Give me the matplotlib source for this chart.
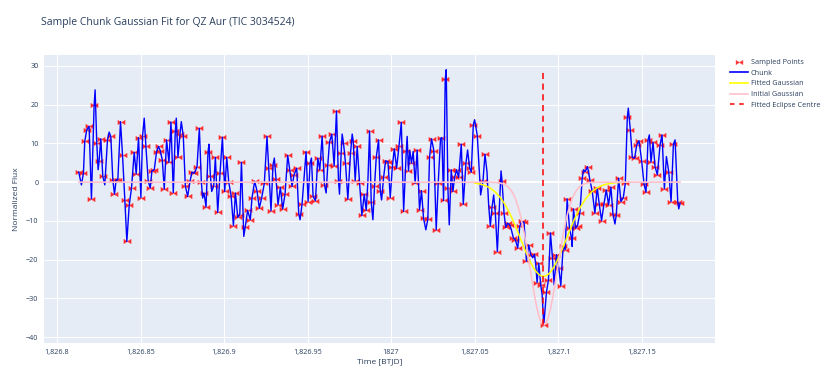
import numpy as np
import matplotlib
matplotlib.use("Agg")
import matplotlib.pyplot as plt
from matplotlib.path import Path
from matplotlib.lines import Line2D

# ---------------- data ----------------
time_a = [1826.8130, 1826.8146, 1826.8158, 1826.8166, 1826.8178, 1826.8192, 1826.8206, 1826.8222, 1826.8228, 1826.8238,
          1826.8246, 1826.8252, 1826.8262, 1826.8274, 1826.8286, 1826.8302, 1826.8312, 1826.8322, 1826.8334, 1826.8344,
          1826.8354, 1826.8364, 1826.8380, 1826.8392, 1826.8406, 1826.8418, 1826.8432, 1826.8446, 1826.8462, 1826.8474,
          1826.8488, 1826.8502, 1826.8512, 1826.8522, 1826.8532, 1826.8546, 1826.8558, 1826.8568, 1826.8582, 1826.8596,
          1826.8608, 1826.8618, 1826.8630, 1826.8642, 1826.8656, 1826.8670, 1826.8682, 1826.8696, 1826.8708, 1826.8714,
          1826.8724, 1826.8736, 1826.8744, 1826.8756, 1826.8768, 1826.8782, 1826.8796, 1826.8808, 1826.8822, 1826.8838,
          1826.8852, 1826.8864, 1826.8872, 1826.8880, 1826.8892, 1826.8904, 1826.8910, 1826.8918, 1826.8926, 1826.8938,
          1826.8948, 1826.8962, 1826.8976, 1826.8990, 1826.9004, 1826.9016, 1826.9028, 1826.9042, 1826.9056, 1826.9068,
          1826.9082, 1826.9094, 1826.9104, 1826.9118]
flux_a = [2.6, -0.7, 2.3, 10.5, 13.5, 14.4, -4.3, 19.8, 23.8, 10.0,
          3.2, 5.5, 11.2, 1.5, -0.7, 10.9, 12.9, 11.8, 0.6, -3.1,
          0.6, 0.6, 15.6, 7.0, -4.6, -15.3, -6.0, -1.5, 7.7, 2.1,
          11.5, -4.0, 11.9, 16.5, 9.3, 0.2, -1.5, 2.9, 3.2, 7.9,
          9.2, 8.1, 5.8, -1.8, 10.9, 5.1, 15.5, -2.7, 13.1, 16.5,
          6.4, 12.4, 15.6, 11.8, -0.9, -3.7, 0.2, 2.6, 2.3, 3.9,
          13.9, 0.0, -4.1, -2.8, -6.4, 7.9, 9.8, 1.7, -2.4, -1.0,
          6.4, -7.8, 2.4, 11.6, -2.4, 6.4, 0.0, -3.5, -11.2, -2.8,
          -9.1, -8.4, 5.1, -14.0]
sampled_a = [1, 0, 1, 1, 1, 1, 1, 1, 0, 1,
             0, 1, 1, 1, 0, 1, 0, 1, 1, 1,
             1, 1, 1, 1, 1, 1, 1, 1, 1, 1,
             1, 1, 1, 0, 1, 1, 1, 1, 1, 1,
             1, 1, 1, 1, 1, 1, 1, 1, 1, 0,
             1, 1, 0, 1, 1, 1, 1, 1, 1, 1,
             1, 1, 0, 1, 1, 1, 0, 1, 0, 1,
             1, 1, 1, 1, 1, 1, 1, 1, 1, 1,
             1, 1, 1, 0]

time_b = [1826.9127, 1826.9141, 1826.9157, 1826.9167, 1826.9183, 1826.9197, 1826.9211, 1826.9225, 1826.9241, 1826.9257,
          1826.9267, 1826.9281, 1826.9293, 1826.9301, 1826.9311, 1826.9323, 1826.9337, 1826.9351, 1826.9365, 1826.9381,
          1826.9393, 1826.9407, 1826.9419, 1826.9435, 1826.9447, 1826.9455, 1826.9467, 1826.9479, 1826.9491, 1826.9503,
          1826.9515, 1826.9523, 1826.9533, 1826.9547, 1826.9561, 1826.9573, 1826.9587, 1826.9601, 1826.9611, 1826.9621,
          1826.9631, 1826.9645, 1826.9659, 1826.9673, 1826.9685, 1826.9691, 1826.9701, 1826.9707, 1826.9715, 1826.9727,
          1826.9741, 1826.9757, 1826.9767, 1826.9773, 1826.9785, 1826.9797, 1826.9811, 1826.9825, 1826.9839, 1826.9851,
          1826.9861, 1826.9871, 1826.9881, 1826.9891, 1826.9901, 1826.9911, 1826.9925, 1826.9935, 1826.9943, 1826.9955,
          1826.9967, 1826.9981, 1826.9995, 1827.0007, 1827.0019, 1827.0033, 1827.0047, 1827.0061, 1827.0075, 1827.0091,
          1827.0096]
flux_b = [-11.5, -7.3, -9.7, -4.1, 0.2, -2.2, -6.7, -4.1, -0.3, 11.8,
          3.6, -7.4, 4.5, 6.2, 0.9, -5.8, -1.3, -6.9, -3.1, 6.9,
          3.2, -1.1, 1.9, 3.6, -8.2, -9.7, -5.6, 1.0, 7.9, -5.0,
          4.9, 6.2, -3.7, -4.8, 6.2, 3.2, 11.9, -0.7, -2.8, 4.5,
          10.3, 12.4, 4.2, 18.4, 0.3, -3.1, 7.5, 12.4, 10.1, 4.9,
          -4.4, 7.5, 12.4, 10.7, 0.3, 9.2, -0.1, -8.6, -3.1, -7.3,
          0.2, 13.2, -5.2, -9.7, -0.9, 6.4, 10.9, -2.2, -4.6, 1.2,
          5.5, 5.3, -4.0, 3.8, 8.6, 3.6, 9.2, 15.4, -7.5, 8.1,
          11.8]
sampled_b = [1, 1, 1, 1, 1, 1, 1, 1, 1, 1,
             1, 1, 1, 0, 1, 1, 1, 1, 1, 1,
             1, 1, 1, 1, 1, 0, 1, 0, 1, 1,
             1, 0, 1, 1, 1, 1, 1, 1, 0, 1,
             1, 1, 1, 1, 1, 0, 1, 0, 1, 1,
             1, 1, 0, 1, 1, 1, 1, 1, 1, 1,
             0, 1, 1, 0, 1, 1, 1, 1, 0, 1,
             1, 1, 1, 1, 1, 1, 1, 1, 1, 1,
             0]

time_c = [1827.0104, 1827.0112, 1827.0122, 1827.0132, 1827.0144, 1827.0156, 1827.0170, 1827.0182, 1827.0194, 1827.0208,
          1827.0220, 1827.0230, 1827.0242, 1827.0256, 1827.0270, 1827.0282, 1827.0296, 1827.0304, 1827.0314, 1827.0324,
          1827.0330, 1827.0340, 1827.0348, 1827.0360, 1827.0370, 1827.0380, 1827.0392, 1827.0404, 1827.0420, 1827.0432,
          1827.0448, 1827.0458, 1827.0470, 1827.0480, 1827.0492, 1827.0500, 1827.0516, 1827.0536, 1827.0550, 1827.0562,
          1827.0574, 1827.0584, 1827.0594, 1827.0604, 1827.0614, 1827.0624, 1827.0636, 1827.0648, 1827.0658, 1827.0664,
          1827.0676, 1827.0686, 1827.0698, 1827.0710, 1827.0720, 1827.0732, 1827.0744, 1827.0758, 1827.0770, 1827.0782,
          1827.0796, 1827.0810, 1827.0824, 1827.0836, 1827.0848, 1827.0858, 1827.0866, 1827.0874, 1827.0884, 1827.0896,
          1827.0904, 1827.0914, 1827.0930, 1827.0942, 1827.0954, 1827.0966, 1827.0976, 1827.0990, 1827.1004, 1827.1016,
          1827.1030, 1827.1042, 1827.1054, 1827.1068, 1827.1080]
flux_c = [2.9, 8.1, 4.9, 7.9, -0.3, 8.3, -7.1, -2.2, -9.3, -12.3,
          -9.5, 6.4, 11.2, 8.1, -12.3, -0.3, 11.3, 11.5, -4.7, 26.6,
          29.0, -1.5, -11.0, 3.2, -2.4, 1.2, 3.2, 1.2, 9.8, -5.7,
          4.9, 8.3, 3.6, 2.6, 14.8, 16.1, 12.0, -3.3, 0.3, 7.2,
          2.7, -6.0, -11.3, -6.5, -3.3, -8.0, -17.9, -6.7, 2.9, 0.4,
          -8.0, -11.7, -10.6, -11.0, -12.3, -14.4, -14.9, -17.0, -11.4, -10.1,
          -10.4, -20.4, -16.2, -18.7, -19.5, -18.6, -21.3, -25.9, -20.9, -26.6,
          -29.0, -36.8, -28.4, -25.2, -13.1, -19.6, -26.5, -18.7, -22.2, -26.7,
          -16.6, -17.4, -4.3, -11.9, -14.4]
sampled_c = [1, 0, 1, 0, 1, 1, 1, 1, 1, 0,
             1, 1, 1, 1, 1, 1, 1, 0, 1, 1,
             0, 1, 0, 1, 1, 1, 1, 1, 1, 1,
             1, 0, 1, 1, 1, 0, 1, 0, 1, 1,
             0, 0, 1, 1, 0, 1, 1, 0, 0, 1,
             1, 1, 1, 1, 0, 1, 1, 1, 1, 1,
             1, 1, 1, 1, 0, 1, 0, 1, 1, 1,
             0, 1, 1, 1, 1, 1, 0, 1, 1, 1,
             1, 1, 1, 1, 1]

time_d = [1827.1084, 1827.1092, 1827.1104, 1827.1116, 1827.1130, 1827.1144, 1827.1152, 1827.1162, 1827.1176, 1827.1190,
          1827.1204, 1827.1220, 1827.1234, 1827.1246, 1827.1260, 1827.1274, 1827.1288, 1827.1302, 1827.1316, 1827.1328,
          1827.1340, 1827.1348, 1827.1362, 1827.1376, 1827.1390, 1827.1402, 1827.1414, 1827.1420, 1827.1432, 1827.1444,
          1827.1458, 1827.1470, 1827.1484, 1827.1500, 1827.1514, 1827.1526, 1827.1538, 1827.1546, 1827.1556, 1827.1568,
          1827.1580, 1827.1594, 1827.1610, 1827.1622, 1827.1636, 1827.1648, 1827.1662, 1827.1676, 1827.1690, 1827.1700,
          1827.1716, 1827.1722, 1827.1730]
flux_d = [-16.6, -6.9, -11.9, -11.2, -8.0, 1.0, 3.2, 2.7, 4.0, 0.6,
          -2.4, -8.0, -1.4, -5.7, -9.9, -5.7, -2.0, -5.8, -1.3, -8.2,
          -10.8, -8.4, 1.0, -5.0, -4.0, -0.3, 16.7, 19.1, 13.5, 6.4,
          6.2, 9.5, 10.7, 5.5, -0.5, -2.6, 10.9, 12.2, 5.2, 10.3,
          4.0, 1.9, 9.6, 12.2, -1.7, 6.6, 2.7, -5.0, 9.8, 10.9,
          -5.0, -6.9, -5.4]
sampled_d = [0, 1, 1, 1, 1, 1, 0, 1, 1, 1,
             1, 1, 1, 1, 1, 1, 1, 1, 1, 1,
             0, 1, 1, 1, 1, 1, 1, 0, 1, 1,
             1, 1, 1, 1, 1, 1, 1, 0, 1, 1,
             1, 1, 1, 1, 1, 0, 1, 1, 1, 0,
             1, 0, 1]

# Gaussian parameters
fit_amp, fit_mu, fit_sigma = -24.3, 1827.0912, 0.0136
fit_window = (1827.050, 1827.140)
init_sigma = 0.0082

x_ticks = [1826.8, 1826.85, 1826.9, 1826.95, 1827.0, 1827.05, 1827.1, 1827.15]
x_tick_labels = ["1,826.8", "1,826.85", "1,826.9", "1,826.95", "1827", "1,827.05", "1,827.1", "1,827.15"]
y_ticks = [-40, -30, -20, -10, 0, 10, 20, 30]
y_tick_labels = ["\u221240", "\u221230", "\u221220", "\u221210", "0", "10", "20", "30"]

title = "Sample Chunk Gaussian Fit for QZ Aur (TIC 3034524)"

# ---------------- assemble ----------------
t = np.array(time_a + time_b + time_c + time_d)
f = np.array(flux_a + flux_b + flux_c + flux_d)
s = np.array(sampled_a + sampled_b + sampled_c + sampled_d, dtype=bool)
assert len(t) == len(f) == len(s), (len(t), len(f), len(s))

imin = int(np.argmin(f))
init_amp, init_mu = f[imin], t[imin]

win = (t >= fit_window[0]) & (t <= fit_window[1])
t_fit = t[win]
g_fit = fit_amp * np.exp(-0.5 * ((t_fit - fit_mu) / fit_sigma) ** 2)
g_init = init_amp * np.exp(-0.5 * ((t - init_mu) / init_sigma) ** 2)

# ---------------- style ----------------
plt.rcParams['font.family'] = ['Open Sans', 'DejaVu Sans']
txt = '#2a3f5f'
W, H = 830, 388
fig = plt.figure(figsize=(W / 100, H / 100), dpi=100)
L, R, T, B = 44, 715, 55, 343
ax = fig.add_axes([L / W, 1 - B / H, (R - L) / W, (B - T) / H])
ax.set_facecolor('#E5ECF6')
for sp in ax.spines.values():
    sp.set_visible(False)
ax.set_xlim(1826.7922, 1827.1939)
ax.set_ylim(-41.5, 32.8)
ax.set_xticks(x_ticks, x_tick_labels)
ax.set_yticks(y_ticks, y_tick_labels)
ax.tick_params(length=0, labelsize=5.2, labelcolor=txt, pad=4)
ax.grid(True, color='white', lw=0.7)
ax.set_axisbelow(True)
ax.axhline(0, color='white', lw=1.5, zorder=1)

bowtie = Path([(-1, -0.62), (1, 0.62), (1, -0.62), (-1, 0.62), (-1, -0.62)],
              [Path.MOVETO, Path.LINETO, Path.LINETO, Path.LINETO, Path.CLOSEPOLY])

ax.plot(t[s], f[s], ls='none', marker=bowtie, ms=5.2, mfc='red', mec='#ff5a5a', mew=0.4, alpha=0.85, zorder=2)
ax.plot(t, f, color='#0000FF', lw=1.0, zorder=3)
ax.plot(t_fit, g_fit, color='#FFFF00', lw=1.1, zorder=4)
ax.plot(t, g_init, color='pink', lw=1.2, zorder=5)
ax.vlines(fit_mu, f.min(), f.max(), colors='#ff0000', linestyles=(0, (4, 3)), lw=1.1, zorder=6)

fig.text(41 / W, 1 - 22 / H, title, fontsize=7.5, color=txt, ha='left', va='center')
fig.text((L + R) / 2 / W, 1 - 362 / H, "Time [BTJD]", fontsize=6, color=txt, ha='center', va='center')
fig.text(17 / W, 1 - (T + B) / 2 / H, "Normalized Flux", fontsize=6, color=txt, ha='center', va='center', rotation=90)

handles = [
    Line2D([], [], ls='none', marker=bowtie, ms=5, mfc='red', mec='#ff5a5a', mew=0.4, alpha=0.85),
    Line2D([], [], color='#0000FF', lw=1.2),
    Line2D([], [], color='#FFFF00', lw=1.2),
    Line2D([], [], color='pink', lw=1.2),
    Line2D([], [], color='#ff0000', lw=1.1, ls=(0, (3, 3))),
]
labels = ["Sampled Points", "Chunk", "Fitted Gaussian", "Initial Gaussian", "Fitted Eclipse Centre"]
leg = fig.legend(handles, labels, loc='upper left', bbox_to_anchor=(730 / W, 1 - 59 / H),
                 frameon=False, fontsize=5.2, handlelength=2.5, handletextpad=0.35,
                 labelspacing=0.5, borderaxespad=0, borderpad=0)
for tx in leg.get_texts():
    tx.set_color(txt)

fig.savefig('out.png', dpi=100)
